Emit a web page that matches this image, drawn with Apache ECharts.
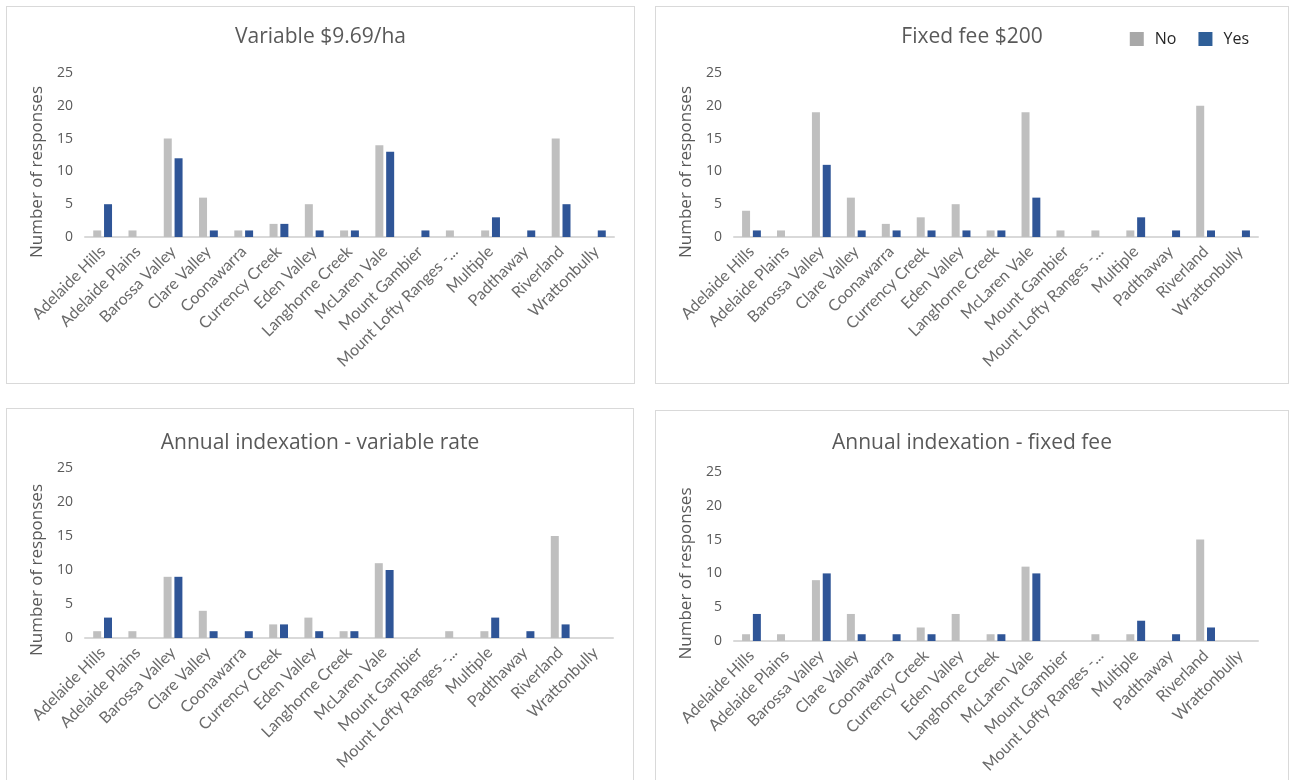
<!DOCTYPE html>
<html>
<head>
<meta charset="utf-8">
<script src="https://cdn.jsdelivr.net/npm/echarts@6/dist/echarts.min.js"></script>
<style>
  html, body { margin: 0; padding: 0; background: #ffffff; }
  body { width: 1295px; height: 780px; position: relative; overflow: hidden; }
  .panel { position: absolute; border: 1px solid #d9d9d9; box-sizing: border-box; background: #fff; }
</style>
</head>
<body>
<div class="panel" id="p1" style="left:6px;top:6px;width:629px;height:378px;"></div>
<div class="panel" id="p2" style="left:655px;top:6px;width:634px;height:378px;"></div>
<div class="panel" id="p3" style="left:6px;top:408px;width:628px;height:382px;"></div>
<div class="panel" id="p4" style="left:655px;top:410px;width:634px;height:380px;"></div>
<script>
// Wine regions surveyed
const regions = ['Adelaide Hills', 'Adelaide Plains', 'Barossa Valley', 'Clare Valley', 'Coonawarra',
  'Currency Creek', 'Eden Valley', 'Langhorne Creek', 'McLaren Vale', 'Mount Gambier',
  'Mount Lofty Ranges -...', 'Multiple', 'Padthaway', 'Riverland', 'Wrattonbully'];

const yTicks = [0, 5, 10, 15, 20, 25];

// Responses per region: "No" / "Yes"
const variableNo  = [1, 1, 15, 6, 1, 2, 5, 1, 14, 0, 1, 1, 0, 15, 0];
const variableYes = [5, 0, 12, 1, 1, 2, 1, 1, 13, 1, 0, 3, 1, 5, 1];

const fixedNo  = [4, 1, 19, 6, 2, 3, 5, 1, 19, 1, 1, 1, 0, 20, 0];
const fixedYes = [1, 0, 11, 1, 1, 1, 1, 1, 6, 0, 0, 3, 1, 1, 1];

const indexVarNo  = [1, 1, 9, 4, 0, 2, 3, 1, 11, 0, 1, 1, 0, 15, 0];
const indexVarYes = [3, 0, 9, 1, 1, 2, 1, 1, 10, 0, 0, 3, 1, 2, 0];

const indexFixNo  = [1, 1, 9, 4, 0, 2, 4, 1, 11, 0, 1, 1, 0, 15, 0];
const indexFixYes = [4, 0, 10, 1, 1, 1, 0, 1, 10, 0, 0, 3, 1, 2, 0];

const GREY = '#bfbfbf';
const BLUE = '#2f5597';
const TEXT = '#595959';

function build(el, title, noData, yesData, layout) {
  const chart = echarts.init(document.getElementById(el), null, { renderer: 'canvas' });
  const opt = {
    animation: false,
    title: {
      text: title, left: 'center', top: layout.titleTop,
      textStyle: { fontFamily: 'Open Sans', fontSize: 21, fontWeight: 'normal', color: TEXT }
    },
    grid: { left: layout.left, right: layout.right, top: layout.top, height: layout.height, containLabel: false },
    xAxis: {
      type: 'category', data: regions,
      axisLine: { lineStyle: { color: '#d9d9d9', width: 2 } },
      axisTick: { show: false },
      axisLabel: { rotate: 45, interval: 0, color: '#6a6a6a', fontFamily: 'Lato', fontSize: 16, margin: 12 }
    },
    yAxis: {
      type: 'value', min: yTicks[0], max: yTicks[yTicks.length - 1], interval: 5,
      name: 'Number of responses', nameLocation: 'middle', nameGap: 35,
      nameTextStyle: { color: TEXT, fontFamily: 'Open Sans', fontSize: 17, padding: [0, 34, 0, 0] },
      axisLine: { show: false }, axisTick: { show: false },
      splitLine: { show: false },
      axisLabel: { color: TEXT, fontFamily: 'Open Sans', fontSize: 14, margin: 12 }
    },
    series: [
      { name: 'No', type: 'bar', data: noData, barWidth: 8, barGap: '35%', itemStyle: { color: GREY } },
      { name: 'Yes', type: 'bar', data: yesData, barWidth: 8, itemStyle: { color: BLUE } }
    ]
  };
  if (layout.legend) {
    opt.legend = {
      data: [
        { name: 'No', itemStyle: { color: '#a8a8a8' } },
        { name: 'Yes', itemStyle: { color: '#2f5f98' } }
      ],
      right: 34, top: 19, itemWidth: 14, itemHeight: 14, itemGap: 22,
      icon: 'rect',
      textStyle: { color: '#262626', fontFamily: 'Open Sans', fontSize: 16, padding: [0, 0, 0, 6] }
    };
  }
  chart.setOption(opt);
}

build('p1', 'Variable $9.69/ha', variableNo, variableYes,
  { titleTop: 15, left: 78, right: 20, top: 66, height: 164 });
build('p2', 'Fixed fee $200', fixedNo, fixedYes,
  { titleTop: 15, left: 78, right: 30, top: 66, height: 164, legend: true });
build('p3', 'Annual indexation - variable rate', indexVarNo, indexVarYes,
  { titleTop: 19, left: 78, right: 20, top: 59, height: 170 });
build('p4', 'Annual indexation - fixed fee', indexFixNo, indexFixYes,
  { titleTop: 17, left: 78, right: 30, top: 61, height: 169 });
</script>
</body>
</html>
